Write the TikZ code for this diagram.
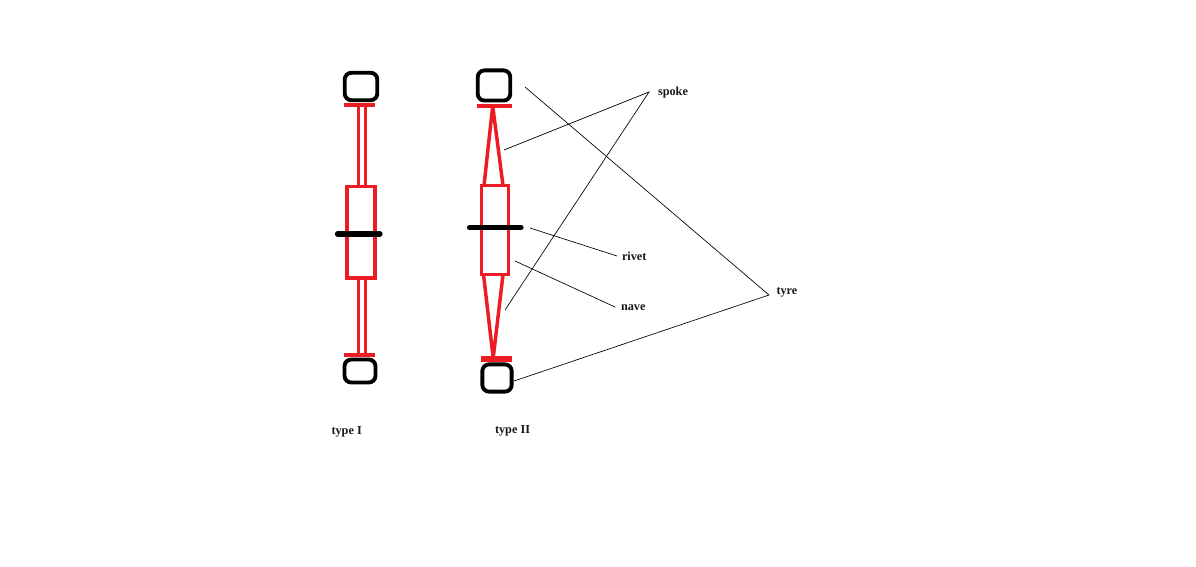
\documentclass[tikz,border=0pt]{standalone}
\usepackage{fontspec}
\setmainfont{Liberation Serif}
\tikzset{
  x=0.75pt,y=-0.75pt,
  tyrebox/.style={draw=black,line width=2.9pt,rounded corners=5pt,inner sep=0pt,outer sep=0pt},
  navebox/.style={draw=tyred,line width=2.6pt,inner sep=0pt,outer sep=0pt},
  redline/.style={draw=tyred,line width=2.6pt},
  redbar/.style={draw=tyred,line width=3pt},
  rivetbar/.style={draw=black,line width=3.9pt,line cap=round},
  thin/.style={draw=black,line width=0.5pt},
  lbl/.style={font=\bfseries\fontsize{9.2pt}{10pt}\selectfont,inner sep=0pt,outer sep=0pt,text=black!90}
}
\definecolor{tyred}{RGB}{237,28,36}
\begin{document}
\begin{tikzpicture}
\useasboundingbox (0,0) rectangle (1196,567);
% type I
\node[tyrebox,minimum width=24.4pt,minimum height=20.6pt] (t1) at (361,86.5) {};
\node[tyrebox,minimum width=23.2pt,minimum height=17.2pt] (b1) at (360,371) {};
\node[navebox,minimum width=21pt,minimum height=68.6pt] (n1) at (361,232.2) {};
\coordinate (bar1tl) at (344,105); \coordinate (bar1tr) at (375,105);
\coordinate (bar1bl) at (344,355); \coordinate (bar1br) at (375,355);
\coordinate (s1a) at (358.5,105); \coordinate (s1b) at (365.5,105);
\coordinate (s1c) at (358.5,186.5); \coordinate (s1d) at (365.5,186.5);
\coordinate (s1e) at (358.5,278); \coordinate (s1f) at (365.5,278);
\coordinate (s1g) at (358.5,355); \coordinate (s1h) at (365.5,355);
\draw[redline] (s1a) -- (s1c) (s1b) -- (s1d) (s1e) -- (s1g) (s1f) -- (s1h);
\draw[redbar] (bar1tl) -- (bar1tr);
\draw[redbar] (bar1bl) -- (bar1br);
\coordinate (r1l) at (337.5,234); \coordinate (r1r) at (380,234);
\draw[rivetbar] (r1l) -- (r1r);
% type II
\node[tyrebox,minimum width=24.4pt,minimum height=22.6pt] (t2) at (494,85.5) {};
\node[tyrebox,minimum width=22pt,minimum height=20.4pt] (b2) at (497,378) {};
\node[navebox,minimum width=20.2pt,minimum height=66.8pt] (n2) at (495,230) {};
\coordinate (bar2tl) at (477,105.6); \coordinate (bar2tr) at (512,105.6);
\coordinate (bar2bl) at (481,359); \coordinate (bar2br) at (512,359);
\coordinate (ap1) at (492.7,106); \coordinate (ap2) at (493.2,358);
\coordinate (u1) at (484,185.5); \coordinate (u2) at (503,185.5);
\coordinate (d1) at (483.5,274.5); \coordinate (d2) at (503,274.5);
\draw[redline,line join=bevel] (u1) -- (ap1) -- (u2);
\draw[redline,line join=bevel] (d1) -- (ap2) -- (d2);
\draw[redbar] (bar2tl) -- (bar2tr);
\draw[draw=tyred,line width=5pt] (bar2bl) -- (bar2br);
\coordinate (r2l) at (469.5,227.7); \coordinate (r2r) at (521,227.7);
\draw[rivetbar] (r2l) -- (r2r);
% labels
\node[lbl,anchor=west] (spoke) at (658,92.5) {spoke};
\node[lbl,anchor=west] (rivet) at (622,256.5) {rivet};
\node[lbl,anchor=west] (nave) at (621,308) {nave};
\node[lbl,anchor=west] (tyre) at (776.5,292) {tyre};
\node[lbl,anchor=west] (ty1) at (331.5,432) {type I};
\node[lbl,anchor=west] (ty2) at (495,431) {type II};
% leaders
\coordinate (vs) at (649,92); \coordinate (vt) at (769,295);
\coordinate (ls1) at (504,150); \coordinate (ls2) at (505,310);
\coordinate (lt1) at (525,87); \coordinate (lt2) at (514,381);
\coordinate (lr1) at (530,228); \coordinate (lr2) at (617,256);
\coordinate (ln1) at (515,261); \coordinate (ln2) at (615,307);
\draw[thin] (ls1) -- (vs) -- (ls2);
\draw[thin] (lt1) -- (vt) -- (lt2);
\draw[thin] (lr1) -- (lr2);
\draw[thin] (ln1) -- (ln2);
\end{tikzpicture}
\end{document}
